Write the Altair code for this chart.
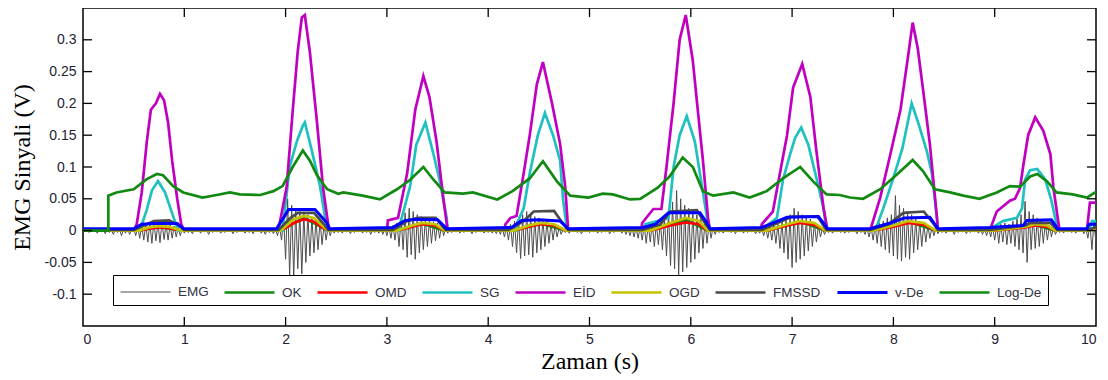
import altair as alt
import pandas as pd

# ---------------- data ----------------
series_names = ["EMG", "OK", "OMD", "SG", "EİD", "OGD", "FMSSD", "v-De", "Log-De"]
series_colors = ["#4d4d4d", "#128a12", "#ff0000", "#20c0c0", "#c000c0", "#c4c400", "#4a4a4a", "#0000ff", "#128a12"]
series_widths = [1, 2.7, 2.7, 2.7, 2.7, 2.7, 2.7, 3, 2.7]

emg_dt = 0.02
emg_v = [
    0.001, -0.002, 0.002, -0.003, 0.001, -0.002, 0.003, -0.004, 0.001, -0.002, 0.002, -0.005, 0.002, -0.003, 0.001, -0.006, 0.002, -0.003, 0.003, -0.008, 0.002, -0.004, 0.003, -0.006, 0.002,
    0.004, -0.008, 0.006, -0.012, 0.008, -0.015, 0.01, -0.018, 0.012, -0.02, 0.014, -0.016, 0.012, -0.019, 0.013, -0.014, 0.01, -0.015, 0.009, -0.012, 0.007, -0.01, 0.005, -0.008, 0.003,
    -0.004, 0.002, -0.003, 0.001, -0.005, 0.002, -0.002, 0.003, -0.004, 0.001, -0.002, 0.002, -0.006, 0.001, -0.003, 0.002, -0.002, 0.001, -0.004, 0.002, -0.003, 0.001, -0.002, 0.002, -0.005,
    0.001, -0.003, 0.002, -0.002, 0.001, -0.004, 0.002, -0.003, 0.001, -0.005, 0.002, -0.002, 0.003, -0.004, 0.001, -0.006, 0.002, -0.003, 0.002, -0.005, 0.003, -0.008, 0.006, -0.015, 0.02,
    -0.045, 0.05, -0.072, 0.04, -0.075, 0.035, -0.06, 0.03, -0.068, 0.028, -0.05, 0.025, -0.04, 0.02, -0.035, 0.018, -0.03, 0.015, -0.022, 0.01, -0.015, 0.006, -0.008, 0.003, -0.004,
    0.002, -0.003, 0.001, -0.004, 0.002, -0.002, 0.001, -0.005, 0.002, -0.003, 0.001, -0.002, 0.002, -0.004, 0.001, -0.003, 0.002, -0.006, 0.001, -0.003, 0.002, -0.004, 0.003, -0.006, 0.004,
    -0.008, 0.006, -0.012, 0.008, -0.015, 0.012, -0.025, 0.02, -0.03, 0.028, -0.042, 0.035, -0.038, 0.03, -0.045, 0.025, -0.035, 0.022, -0.03, 0.02, -0.025, 0.018, -0.02, 0.014, -0.016,
    0.012, -0.012, 0.008, -0.008, 0.004, -0.004, 0.002, -0.003, 0.001, -0.002, 0.002, -0.004, 0.001, -0.003, 0.002, -0.002, 0.001, -0.005, 0.002, -0.003, 0.001, -0.002, 0.002, -0.004, 0.001,
    -0.003, 0.002, -0.004, 0.002, -0.005, 0.003, -0.006, 0.004, -0.01, 0.006, -0.015, 0.01, -0.025, 0.015, -0.035, 0.02, -0.044, 0.025, -0.04, 0.03, -0.038, 0.028, -0.042, 0.022, -0.035,
    0.02, -0.03, 0.018, -0.025, 0.015, -0.02, 0.012, -0.015, 0.008, -0.01, 0.005, -0.006, 0.002, -0.003, 0.001, -0.004, 0.002, -0.002, 0.001, -0.003, 0.002, -0.005, 0.001, -0.002, 0.002,
    -0.003, 0.001, -0.002, 0.002, -0.004, 0.001, -0.003, 0.002, -0.002, 0.001, -0.005, 0.002, -0.003, 0.001, -0.002, 0.002, -0.004, 0.003, -0.006, 0.002, -0.008, 0.004, -0.01, 0.005, -0.012,
    0.006, -0.015, 0.008, -0.02, 0.01, -0.018, 0.012, -0.025, 0.012, -0.022, 0.015, -0.03, 0.02, -0.04, 0.03, -0.055, 0.045, -0.06, 0.063, -0.07, 0.05, -0.065, 0.04, -0.058, 0.035,
    -0.05, 0.03, -0.045, 0.025, -0.035, 0.02, -0.028, 0.015, -0.02, 0.01, -0.012, 0.005, -0.006, 0.002, -0.003, 0.001, -0.004, 0.002, -0.002, 0.001, -0.003, 0.002, -0.005, 0.001, -0.002,
    0.002, -0.004, 0.001, -0.003, 0.002, -0.002, 0.001, -0.005, 0.002, -0.004, 0.003, -0.008, 0.004, -0.012, 0.006, -0.015, 0.008, -0.02, 0.01, -0.028, 0.015, -0.035, 0.02, -0.045, 0.025,
    -0.058, 0.035, -0.05, 0.03, -0.045, 0.025, -0.04, 0.02, -0.032, 0.018, -0.025, 0.012, -0.018, 0.008, -0.01, 0.004, -0.006, 0.002, -0.003, 0.001, -0.004, 0.002, -0.002, 0.001, -0.003,
    0.002, -0.004, 0.001, -0.003, 0.002, -0.002, 0.001, -0.005, 0.002, -0.003, 0.001, -0.006, 0.003, -0.01, 0.005, -0.015, 0.008, -0.02, 0.012, -0.025, 0.015, -0.03, 0.02, -0.035, 0.025,
    -0.04, 0.055, -0.045, 0.04, -0.048, 0.035, -0.042, 0.03, -0.045, 0.025, -0.035, 0.02, -0.03, 0.015, -0.025, 0.01, -0.018, 0.008, -0.012, 0.005, -0.008, 0.003, -0.005, 0.002, -0.003,
    0.001, -0.004, 0.002, -0.002, 0.001, -0.006, 0.002, -0.003, 0.001, -0.002, 0.002, -0.005, 0.001, -0.003, 0.002, -0.002, 0.001, -0.004, 0.002, -0.006, 0.003, -0.008, 0.004, -0.01, 0.005,
    -0.015, 0.008, -0.02, 0.01, -0.018, 0.012, -0.022, 0.01, -0.02, 0.015, -0.025, 0.02, -0.03, 0.025, -0.035, 0.046, -0.05, 0.03, -0.03, 0.025, -0.028, 0.02, -0.025, 0.015, -0.02,
    0.012, -0.015, 0.008, -0.01, 0.005, -0.006, 0.002, -0.003, 0.001, -0.004, 0.002, -0.002, 0.001, -0.003, 0.002, -0.004, 0.001, -0.002, 0.002, -0.005, 0.003, -0.012, 0.01, -0.03, 0.015,
    -0.02,
]

ok_t = [0, 0.55, 0.75, 0.97, 1.95, 2.18, 2.42, 3.1, 3.35, 3.57, 4.25, 4.52, 4.77, 5.6, 5.95, 6.17, 6.75, 7.08, 7.33, 7.8, 8.15, 8.42, 8.98, 9.4, 9.6, 9.92, 10]
ok_v = [0, 0, 0.006, 0, 0, 0.02, 0, 0, 0.011, 0, 0, 0.011, 0, 0, 0.017, 0, 0, 0.014, 0, 0, 0.014, 0, 0, 0.009, 0, 0, 0.003]

omd_t = [0, 0.55, 0.65, 0.75, 0.85, 0.97, 1.95, 2.08, 2.18, 2.28, 2.36, 2.42, 3.1, 3.25, 3.35, 3.48, 3.57,
         4.25, 4.4, 4.52, 4.65, 4.77, 5.6, 5.8, 5.95, 6.08, 6.17, 6.75, 6.95, 7.08, 7.22, 7.33,
         7.8, 8.0, 8.15, 8.3, 8.42, 8.98, 9.3, 9.4, 9.52, 9.6, 9.92, 10]
omd_v = [0, 0, 0.003, 0.005, 0.004, 0, 0, 0.012, 0.018, 0.014, 0.005, 0, 0, 0.006, 0.01, 0.008, 0,
         0, 0.006, 0.01, 0.008, 0, 0, 0.008, 0.013, 0.01, 0, 0, 0.008, 0.012, 0.009, 0,
         0, 0.006, 0.012, 0.009, 0, 0, 0.005, 0.008, 0.006, 0, 0, 0.003]

sg_t = [0, 0.56, 0.63, 0.68, 0.74, 0.81, 0.88, 0.94,
        1.97, 2.04, 2.11, 2.17, 2.19, 2.26, 2.34, 2.41,
        3.12, 3.13, 3.23, 3.29, 3.38, 3.46, 3.52, 3.59, 3.6,
        4.27, 4.28, 4.35, 4.41, 4.49, 4.56, 4.64, 4.71, 4.74, 4.78,
        5.54, 5.55, 5.67, 5.78, 5.83, 5.89, 5.96, 6.04, 6.11, 6.16, 6.18,
        6.72, 6.73, 6.85, 6.91, 6.98, 7.03, 7.09, 7.16, 7.24, 7.31, 7.34,
        7.82, 7.9, 8.0, 8.09, 8.18, 8.24, 8.33, 8.38, 8.43, 8.44,
        8.97, 8.98, 9.08, 9.22, 9.27, 9.3, 9.35, 9.42, 9.5, 9.56, 9.61, 9.63,
        9.93, 9.96, 10]
sg_v = [0, 0, 0.033, 0.063, 0.078, 0.06, 0.027, 0,
        0, 0.1, 0.14, 0.165, 0.17, 0.125, 0.07, 0,
        0, 0.01, 0.07, 0.135, 0.17, 0.12, 0.08, 0.02, 0,
        0, 0.01, 0.035, 0.09, 0.15, 0.185, 0.15, 0.11, 0.047, 0,
        0, 0.01, 0.015, 0.02, 0.1, 0.15, 0.18, 0.14, 0.07, 0.02, 0,
        0, 0.005, 0.02, 0.08, 0.12, 0.146, 0.162, 0.135, 0.083, 0.035, 0,
        0, 0.035, 0.083, 0.13, 0.2, 0.172, 0.125, 0.09, 0.02, 0,
        0, 0.005, 0.015, 0.02, 0.035, 0.08, 0.095, 0.097, 0.08, 0.047, 0.01, 0,
        0, 0.015, 0.015]

eid_t = [0, 0.5, 0.53, 0.58, 0.63, 0.67, 0.72, 0.76, 0.8, 0.84, 0.88, 0.93, 0.97, 1.0,
         1.91, 1.94, 2.01, 2.07, 2.12, 2.16, 2.19, 2.24, 2.31, 2.37, 2.42, 2.44,
         3.0, 3.01, 3.11, 3.2, 3.28, 3.36, 3.42, 3.49, 3.56, 3.6,
         4.16, 4.17, 4.22, 4.28, 4.35, 4.41, 4.48, 4.54, 4.63, 4.71, 4.76, 4.79,
         5.51, 5.52, 5.63, 5.71, 5.76, 5.83, 5.89, 5.95, 6.02, 6.07, 6.12, 6.17, 6.19,
         6.69, 6.7, 6.81, 6.88, 6.95, 7.01, 7.1, 7.18, 7.24, 7.31, 7.35,
         7.77, 7.87, 7.97, 8.07, 8.15, 8.19, 8.24, 8.29, 8.36, 8.43, 8.44,
         8.95, 9.02, 9.15, 9.2, 9.25, 9.28, 9.33, 9.4, 9.48, 9.55, 9.58, 9.64,
         9.91, 9.94, 10]
eid_v = [0, 0, 0.01, 0.06, 0.14, 0.19, 0.2, 0.215, 0.205, 0.17, 0.11, 0.05, 0.01, 0,
         0, 0.01, 0.068, 0.188, 0.282, 0.335, 0.339, 0.28, 0.17, 0.067, 0.01, 0,
         0, 0.016, 0.02, 0.09, 0.19, 0.243, 0.21, 0.14, 0.047, 0,
         0, 0.01, 0.02, 0.023, 0.09, 0.15, 0.23, 0.265, 0.2, 0.136, 0.07, 0,
         0, 0.012, 0.034, 0.034, 0.1, 0.2, 0.3, 0.339, 0.267, 0.188, 0.11, 0.02, 0,
         0, 0.01, 0.03, 0.09, 0.15, 0.225, 0.262, 0.21, 0.125, 0.036, 0,
         0, 0.052, 0.12, 0.19, 0.28, 0.327, 0.287, 0.225, 0.136, 0.02, 0,
         0, 0.03, 0.047, 0.05, 0.067, 0.1, 0.15, 0.178, 0.157, 0.12, 0.067, 0,
         0, 0.044, 0.044]

ogd_t = [0, 0.55, 0.65, 0.75, 0.85, 0.97, 1.95, 2.08, 2.18, 2.28, 2.36, 2.42, 3.1, 3.25, 3.35, 3.48, 3.57,
         4.25, 4.4, 4.52, 4.65, 4.77, 5.6, 5.8, 5.95, 6.08, 6.17, 6.75, 6.95, 7.08, 7.22, 7.33,
         7.8, 8.0, 8.15, 8.3, 8.42, 8.98, 9.3, 9.4, 9.52, 9.6, 9.92, 10]
ogd_v = [0, 0, 0.005, 0.007, 0.006, 0, 0, 0.018, 0.023, 0.02, 0.008, 0, 0, 0.008, 0.012, 0.01, 0,
         0, 0.008, 0.012, 0.01, 0, 0, 0.012, 0.02, 0.015, 0, 0, 0.01, 0.015, 0.012, 0,
         0, 0.008, 0.015, 0.012, 0, 0, 0.006, 0.01, 0.008, 0, 0, 0.004]

fmssd_t = [0, 0.5, 0.6, 0.7, 0.85, 0.95, 1.0,
           1.93, 2.05, 2.12, 2.28, 2.38, 2.42,
           3.06, 3.2, 3.3, 3.48, 3.58,
           4.2, 4.35, 4.45, 4.65, 4.72, 4.79,
           5.52, 5.7, 5.8, 6.06, 6.14, 6.19,
           6.7, 6.9, 7.0, 7.25, 7.34,
           7.77, 7.95, 8.1, 8.3, 8.4, 8.44,
           8.95, 9.3, 9.35, 9.55, 9.62,
           9.91, 10]
fmssd_v = [0.001, 0.001, 0.008, 0.015, 0.016, 0.008, 0.001,
           0.001, 0.02, 0.028, 0.028, 0.01, 0.001,
           0.001, 0.015, 0.02, 0.02, 0.001,
           0.001, 0.015, 0.03, 0.031, 0.015, 0.001,
           0.001, 0.01, 0.03, 0.032, 0.012, 0.001,
           0.001, 0.015, 0.022, 0.022, 0.001,
           0.001, 0.01, 0.028, 0.03, 0.01, 0.001,
           0.001, 0.008, 0.012, 0.012, 0.001,
           0.001, 0.005]

vde_t = [0, 0.5, 0.58, 0.7, 0.93, 0.99,
         1.91, 2.03, 2.29, 2.41, 2.43,
         3.06, 3.18, 3.3, 3.5, 3.59,
         4.23, 4.33, 4.5, 4.71, 4.79,
         5.53, 5.65, 5.78, 6.09, 6.16, 6.19,
         6.7, 6.95, 7.26, 7.35,
         7.77, 7.97, 8.11, 8.36, 8.43, 8.45,
         8.95, 9.28, 9.32, 9.56, 9.62,
         9.91, 9.93, 10]
vde_v = [0.003, 0.003, 0.01, 0.011, 0.011, 0.003,
         0.003, 0.033, 0.033, 0.012, 0.003,
         0.005, 0.016, 0.018, 0.017, 0.003,
         0.005, 0.016, 0.017, 0.015, 0.003,
         0.005, 0.01, 0.028, 0.028, 0.012, 0.003,
         0.005, 0.021, 0.022, 0.003,
         0.003, 0.012, 0.02, 0.021, 0.005, 0.003,
         0.005, 0.008, 0.016, 0.017, 0.003,
         0.003, 0.01, 0.01]

logde_t = [0, 0.25, 0.25, 0.33, 0.5, 0.63, 0.73, 0.79, 0.89, 0.99, 1.18, 1.32, 1.45, 1.55, 1.75, 1.88, 1.97,
           2.07, 2.17, 2.24, 2.31, 2.41, 2.52, 2.57, 2.76, 2.93, 3.1, 3.23, 3.36, 3.46, 3.57, 3.75, 3.85,
           4.09, 4.24, 4.41, 4.54, 4.68, 4.81, 4.99, 5.13, 5.23, 5.4, 5.5, 5.67, 5.79, 5.92, 6.02, 6.12,
           6.22, 6.42, 6.58, 6.75, 6.91, 7.08, 7.21, 7.34, 7.47, 7.57, 7.7, 7.87, 8.04, 8.19, 8.29, 8.41,
           8.56, 8.69, 8.85, 9.02, 9.15, 9.25, 9.35, 9.42, 9.52, 9.61, 9.77, 9.91, 10]
logde_v = [0, 0, 0.055, 0.06, 0.065, 0.081, 0.089, 0.087, 0.07, 0.06, 0.052, 0.056, 0.06, 0.057, 0.056, 0.062, 0.07,
           0.1, 0.126, 0.11, 0.087, 0.065, 0.058, 0.06, 0.055, 0.049, 0.065, 0.08, 0.1, 0.08, 0.06, 0.058, 0.06,
           0.049, 0.062, 0.082, 0.109, 0.077, 0.055, 0.052, 0.058, 0.057, 0.049, 0.05, 0.067, 0.085, 0.115, 0.1, 0.062,
           0.055, 0.06, 0.052, 0.062, 0.082, 0.1, 0.077, 0.057, 0.056, 0.052, 0.05, 0.065, 0.089, 0.111, 0.094, 0.065,
           0.06, 0.055, 0.05, 0.06, 0.07, 0.069, 0.085, 0.089, 0.077, 0.06, 0.057, 0.052, 0.061]

x_ticks = [1, 2, 3, 4, 5, 6, 7, 8, 9]
x_labels = [0, 1, 2, 3, 4, 5, 6, 7, 8, 9, 10]
y_ticks = [-0.1, -0.05, 0, 0.05, 0.1, 0.15, 0.2, 0.25, 0.3]

# ---------------- build tables ----------------
emg_t = [round(i * emg_dt, 2) for i in range(len(emg_v))]
table = {
    "EMG": (emg_t, emg_v),
    "OK": (ok_t, ok_v),
    "OMD": (omd_t, omd_v),
    "SG": (sg_t, sg_v),
    "EİD": (eid_t, eid_v),
    "OGD": (ogd_t, ogd_v),
    "FMSSD": (fmssd_t, fmssd_v),
    "v-De": (vde_t, vde_v),
    "Log-De": (logde_t, logde_v),
}

W, H = 1013, 318
TICK = 9

color_scale = alt.Scale(domain=series_names, range=series_colors)
width_scale = alt.Scale(type="ordinal", domain=series_names, range=series_widths)

legend = alt.Legend(
    title=None, orient="none", legendX=30, legendY=267, direction="horizontal", columns=9,
    symbolType="M-1,0H4", symbolSize=400, labelFont="Liberation Sans", labelFontSize=13.5,
    labelColor="#333344", labelOffset=36, columnPadding=10, padding=6,
    strokeColor="black", fillColor="white", labelLimit=200,
)

x_enc = alt.X("t:Q", scale=alt.Scale(domain=[0, 10], nice=False, zero=False),
              axis=alt.Axis(values=x_labels, ticks=False, domain=False, grid=False,
                            labelPadding=6, labelFontSize=14, format="d",
                            title="Zaman (s)", titleFont="Liberation Serif", titleFontSize=24,
                            titleFontWeight="normal", titleColor="black",
                            titleBaseline="alphabetic", titleY=42))
y_enc = alt.Y("v:Q", scale=alt.Scale(domain=[-0.15, 0.35], nice=False, zero=False),
              axis=alt.Axis(values=y_ticks, ticks=False, domain=False, grid=False,
                            labelPadding=7, labelFontSize=14,
                            labelExpr="replace(format(datum.value, '~g'), '\u2212', '-')",
                            title="EMG Sinyali (V)", titleFont="Liberation Serif", titleFontSize=24,
                            titleFontWeight="normal", titleColor="black",
                            titleBaseline="alphabetic", titleX=-54, titleY=H / 2, titleAngle=-90))

layers = []
for name in series_names:
    ts, vs = table[name]
    df = pd.DataFrame({"t": ts, "v": vs, "s": name, "i": list(range(len(ts)))})
    layers.append(
        alt.Chart(df).mark_line(strokeJoin="miter", clip=True).encode(
            x=x_enc, y=y_enc,
            color=alt.Color("s:N", scale=color_scale, legend=legend),
            strokeWidth=alt.StrokeWidth("s:N", scale=width_scale, legend=legend),
            order="i:Q",
        )
    )

xt_df = pd.DataFrame({"t": x_ticks})
yt_df = pd.DataFrame({"v": y_ticks})
tick_bottom = alt.Chart(xt_df).mark_rule(color="black", strokeWidth=1.3).encode(
    x=x_enc, y=alt.value(H), y2=alt.value(H - TICK))
tick_top = alt.Chart(xt_df).mark_rule(color="black", strokeWidth=1.3).encode(
    x=x_enc, y=alt.value(0), y2=alt.value(TICK))
tick_left = alt.Chart(yt_df).mark_rule(color="black", strokeWidth=1.3).encode(
    y=y_enc, x=alt.value(0), x2=alt.value(TICK))
tick_right = alt.Chart(yt_df).mark_rule(color="black", strokeWidth=1.3).encode(
    y=y_enc, x=alt.value(W), x2=alt.value(W - TICK))

chart = alt.layer(*layers, tick_bottom, tick_top, tick_left, tick_right).properties(
    width=W, height=H,
    padding={"left": 75, "top": 0, "right": 4, "bottom": 52},
    autosize=alt.AutoSizeParams(type="none"),
    background="white",
).configure_view(
    stroke="black", strokeWidth=1.5
).configure_axis(
    labelFont="Liberation Sans", labelColor="#222233"
)

chart.save("out.html", embed_options={"renderer": "svg", "actions": False})
